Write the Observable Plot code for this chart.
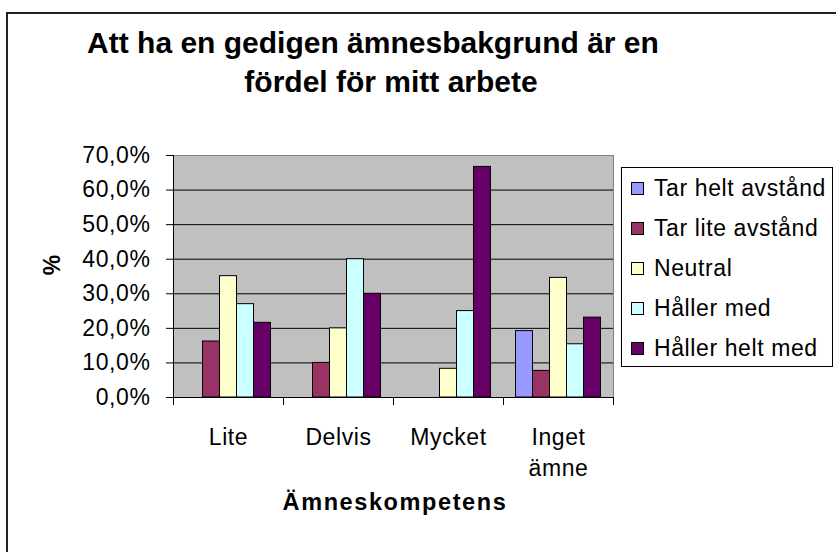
<!DOCTYPE html>
<html>
<head>
<meta charset="utf-8">
<script src="https://cdn.jsdelivr.net/npm/d3@7"></script>
<script src="https://cdn.jsdelivr.net/npm/@observablehq/plot@0.6"></script>
<style>
  html, body { margin: 0; padding: 0; background: #fff; }
  body { font-family: "Liberation Sans", Arial, sans-serif; }
  #chart { position: relative; width: 836px; height: 552px; overflow: hidden; }
  #border { position: absolute; left: 6px; top: 12px; width: 900px; height: 700px; border: 2px solid #222; box-sizing: border-box; }
  .tl { position: absolute; width: 700px; text-align: center; font-weight: bold; font-size: 30px; line-height: 30px; color: #000; white-space: nowrap; }
  #t1 { left: 23px; top: 28px; }
  #t2 { left: 41px; top: 67px; }
  #ylabel { position: absolute; left: 52px; top: 265px; transform: translate(-50%, -50%) rotate(-90deg); font-weight: bold; font-size: 23px; line-height: 23px; }
  #xlabel { position: absolute; left: 395px; top: 502px; transform: translate(-50%, -50%); font-weight: bold; font-size: 23.5px; letter-spacing: 1.6px; line-height: 23px; white-space: nowrap; }
  #legend { position: absolute; left: 621px; top: 167px; width: 212px; height: 200px; border: 1px solid #000; box-sizing: border-box; background: #fff; }
  .row { height: 40px; display: flex; align-items: center; padding-left: 9px; box-sizing: border-box; }
  .sw { width: 13px; height: 13px; border: 1px solid #000; box-sizing: border-box; margin-right: 10px; flex: none; }
  .lt { font-size: 23px; letter-spacing: 0.6px; white-space: nowrap; }
  #plot { position: absolute; left: 0; top: 0; }
  #plot svg text { letter-spacing: 0.6px; }
  #plot svg g[aria-label="y-axis tick label"] text { letter-spacing: 1.2px; }
</style>
</head>
<body>
<div id="chart">
  <div id="plot"></div>
  <div id="border"></div>
  <div class="tl" id="t1">Att ha en gedigen ämnesbakgrund är en</div>
  <div class="tl" id="t2">fördel för mitt arbete</div>
  <div id="ylabel">%</div>
  <div id="xlabel">Ämneskompetens</div>
  <div id="legend"></div>
</div>
<script>
// ---- data ----
const categories = ["Lite", "Delvis", "Mycket", "Inget ämne"];
const categoryLabels = ["Lite", "Delvis", "Mycket", "Inget\nämne"];
const seriesNames = ["Tar helt avstånd", "Tar lite avstånd", "Neutral", "Håller med", "Håller helt med"];
const seriesColors = ["#9999FF", "#993366", "#FFFFCC", "#CCFFFF", "#660066"];
const tarHeltAvstand = [0, 0, 0, 19.2];
const tarLiteAvstand = [16.2, 10.0, 0, 7.7];
const neutral = [35.1, 20.0, 8.3, 34.6];
const hallerMed = [27.0, 40.0, 25.0, 15.4];
const hallerHeltMed = [21.6, 30.0, 66.7, 23.1];
const yTicks = [0, 10, 20, 30, 40, 50, 60, 70];

// ---- layout ----
const seriesValues = [tarHeltAvstand, tarLiteAvstand, neutral, hallerMed, hallerHeltMed];
const groupPad = 12.5 / 110;   // fraction of category band left empty on each side
const barW = 17 / 110;         // fraction of category band per bar

const rows = seriesValues.flatMap((vals, j) =>
  vals.map((v, i) => ({ cat: i, category: categories[i], ser: seriesNames[j], j, value: v }))
).filter(d => d.value > 0);

const fmt = t => t.toFixed(1).replace(".", ",") + "%";

const plot = Plot.plot({
  width: 836,
  height: 552,
  marginLeft: 173,
  marginRight: 223,
  marginTop: 155,
  marginBottom: 155,
  style: { fontFamily: "'Liberation Sans', Arial, sans-serif", fontSize: "23px", background: "transparent", color: "#000" },
  x: { type: "linear", domain: [0, categories.length], axis: null },
  y: { domain: [0, 70], axis: null },
  color: { domain: seriesNames, range: seriesColors },
  marks: [
    Plot.frame({ fill: "#c0c0c0", stroke: "none" }),
    Plot.ruleY(yTicks.filter(t => t > 0 && t < 70), { stroke: "#000", strokeWidth: 1 }),
    Plot.rect(rows, {
      x1: d => d.cat + groupPad + d.j * barW,
      x2: d => d.cat + groupPad + (d.j + 1) * barW,
      y1: 0,
      y2: "value",
      fill: "ser",
      stroke: "#000",
      strokeWidth: 1
    }),
    Plot.ruleY([70], { stroke: "#808080", strokeWidth: 1 }),
    Plot.ruleX([categories.length], { stroke: "#808080", strokeWidth: 1 }),
    Plot.ruleX([0], { stroke: "#000", strokeWidth: 1 }),
    Plot.ruleY([0], { stroke: "#000", strokeWidth: 1 }),
    Plot.axisY({ ticks: yTicks, tickSize: 7, tickPadding: 16, tickFormat: fmt, label: null, ariaLabel: "y-axis tick label" }),
    Plot.axisX({ ticks: d3.range(categories.length + 1), tickSize: 8, tickFormat: () => "", label: null }),
    Plot.axisX({
      ticks: categories.map((c, i) => i + 0.5),
      tickSize: 0,
      tickPadding: 25,
      tickFormat: t => categoryLabels[Math.floor(t)],
      lineHeight: 1.37,
      label: null
    })
  ]
});
document.getElementById("plot").appendChild(plot);

// legend
const legend = document.getElementById("legend");
seriesNames.forEach((name, j) => {
  const row = document.createElement("div");
  row.className = "row";
  const sw = document.createElement("div");
  sw.className = "sw";
  sw.style.background = seriesColors[j];
  const lt = document.createElement("span");
  lt.className = "lt";
  lt.textContent = name;
  row.appendChild(sw);
  row.appendChild(lt);
  legend.appendChild(row);
});
</script>
</body>
</html>
